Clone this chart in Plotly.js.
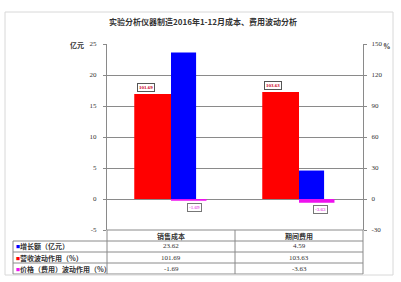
<!DOCTYPE html>
<html><head><meta charset="utf-8">
<script src="https://cdn.plot.ly/plotly-3.0.1.min.js"></script>
<style>html,body{margin:0;padding:0;background:#fff;}#chart{width:401px;height:282px;}</style>
</head><body><div id="chart"></div>
<script>
// ---- data ----
const categories = ['销售成本', '期间费用'];
const growthAmount = [23.62, 4.59];        // 增长额（亿元） - left axis
const revenueEffect = [101.69, 103.63];    // 营收波动作用（%） - right axis
const priceEffect = [-1.69, -3.63];        // 价格（费用）波动作用（%） - right axis
const seriesNames = ['增长额（亿元）', '营收波动作用（%）', '价格（费用）波动作用（%）'];
const leftTicks = [-5, 0, 5, 10, 15, 20, 25];
const rightTicks = [-30, 0, 30, 60, 90, 120, 150];
const titleText = '实验分析仪器制造2016年1-12月成本、费用波动分析';

// ---- layout geometry (pixels) ----
const W = 401, H = 282;
const L = 107, R = 363, T = 44, B = 230;
const px2x = p => (p - L) / (R - L);
const py2y = p => (B - p) / (B - T);
const colors = ['#0000ff', '#ff0000', '#ee11ee'];
const numFont = 'Liberation Serif, DejaVu Serif, serif';
const cjkFont = 'Noto Sans CJK SC, sans-serif';

const traces = [
  {type: 'bar', x: categories, y: growthAmount, yaxis: 'y', name: seriesNames[0],
   marker: {color: colors[0]}, offset: 0, width: 0.196, hoverinfo: 'none'},
  {type: 'bar', x: categories, y: revenueEffect, yaxis: 'y2', name: seriesNames[1],
   marker: {color: colors[1]}, offset: -0.287, width: 0.287, hoverinfo: 'none'},
  {type: 'bar', x: categories, y: priceEffect, yaxis: 'y2', name: seriesNames[2],
   marker: {color: colors[2]}, offset: 0, width: 0.277, hoverinfo: 'none'}
];

const annotations = [];
const shapes = [];

// data labels
const labelDx = [[-0.197, -0.203], [0.18, 0.165]];
revenueEffect.forEach((v, i) => annotations.push({
  x: i + labelDx[0][i], y: v, xref: 'x', yref: 'y2', text: '<b>' + v.toFixed(2) + '</b>', showarrow: false,
  xanchor: 'center', yanchor: 'bottom', yshift: 2, font: {family: numFont, size: 5, color: '#cc0022'},
  bgcolor: '#ffffff', bordercolor: '#555', borderwidth: 1, borderpad: 1
}));
priceEffect.forEach((v, i) => annotations.push({
  x: i + labelDx[1][i], y: v, xref: 'x', yref: 'y2', text: v.toFixed(2), showarrow: false,
  xanchor: 'center', yanchor: 'top', yshift: -2, font: {family: numFont, size: 5, color: '#dd00dd'},
  bgcolor: '#ffffff', bordercolor: '#777', borderwidth: 1, borderpad: 1
}));

// unit labels
annotations.push({xref: 'paper', yref: 'paper', x: px2x(77), y: py2y(45), xanchor: 'center', yanchor: 'middle',
  text: '<b>亿元</b>', showarrow: false, font: {family: cjkFont, size: 7, color: '#333'}});
annotations.push({xref: 'paper', yref: 'paper', x: px2x(387), y: py2y(46), xanchor: 'center', yanchor: 'middle',
  text: '<b>%</b>', showarrow: false, font: {family: numFont, size: 7.5, color: '#333'}});

// data table
const rowEdges = [230, 241, 252, 263, 274];
const colEdges = [13, 107, 235, 363];
const lineStyle = {color: '#8a8a8a', width: 1};
rowEdges.forEach((ry, k) => shapes.push({type: 'line', xref: 'paper', yref: 'paper',
  x0: px2x(k === 0 ? colEdges[1] : colEdges[0]), x1: px2x(colEdges[3]), y0: py2y(ry), y1: py2y(ry), line: lineStyle}));
colEdges.forEach((cx, k) => shapes.push({type: 'line', xref: 'paper', yref: 'paper',
  x0: px2x(cx), x1: px2x(cx), y0: py2y(k === 0 ? rowEdges[1] : rowEdges[0]), y1: py2y(rowEdges[4]), line: lineStyle}));
categories.forEach((c, i) => annotations.push({xref: 'paper', yref: 'paper',
  x: px2x((colEdges[i + 1] + colEdges[i + 2]) / 2), y: py2y((rowEdges[0] + rowEdges[1]) / 2),
  xanchor: 'center', yanchor: 'middle',
  text: '<b>' + c + '</b>', showarrow: false, font: {family: cjkFont, size: 7, color: '#333'}}));
const rowValues = [growthAmount, revenueEffect, priceEffect];
rowValues.forEach((vals, r) => {
  const cy = py2y((rowEdges[r + 1] + rowEdges[r + 2]) / 2);
  annotations.push({xref: 'paper', yref: 'paper', x: px2x(colEdges[0] + 1), xanchor: 'left', y: cy, yanchor: 'middle',
    text: '<span style="color:' + colors[r] + ';font-size:4px">■</span><b>' + seriesNames[r] + '</b>', showarrow: false,
    font: {family: cjkFont, size: 7, color: '#333'}});
  vals.forEach((v, i) => annotations.push({xref: 'paper', yref: 'paper',
    x: px2x((colEdges[i + 1] + colEdges[i + 2]) / 2), y: cy, xanchor: 'center', yanchor: 'middle',
    text: v.toFixed(2), showarrow: false, font: {family: numFont, size: 7, color: '#333'}}));
});

// outer chart border
shapes.push({type: 'rect', xref: 'paper', yref: 'paper', x0: px2x(5), x1: px2x(393), y0: py2y(275), y1: py2y(12),
  line: {color: '#d8d8d8', width: 1}, fillcolor: 'rgba(0,0,0,0)'});

const layout = {
  width: W, height: H,
  margin: {l: L, r: W - R, t: T, b: H - B, pad: 0},
  paper_bgcolor: '#ffffff', plot_bgcolor: '#ffffff',
  showlegend: false, barmode: 'overlay',
  title: {text: '<b>' + titleText + '</b>', x: 203 / W, xref: 'container', xanchor: 'center',
    y: 1 - 22 / H, yref: 'container', yanchor: 'middle', font: {family: cjkFont, size: 8, color: '#333'}},
  xaxis: {type: 'category', showticklabels: false, showgrid: false, zeroline: false,
    showline: false, ticks: '', range: [-0.5, 1.5]},
  yaxis: {range: [-5, 25], tickvals: leftTicks, ticktext: leftTicks.map(String), showgrid: true,
    gridcolor: '#8a8a8a', gridwidth: 1, zeroline: false, showline: true, linecolor: '#8a8a8a', linewidth: 1,
    ticks: 'outside', ticklen: 3, tickcolor: '#8a8a8a', ticklabelstandoff: 5,
    tickfont: {family: numFont, size: 7, color: '#333'}},
  yaxis2: {range: [-30, 150], tickvals: rightTicks, ticktext: rightTicks.map(String), overlaying: 'y', side: 'right',
    showgrid: false, zeroline: false, showline: true, linecolor: '#8a8a8a', linewidth: 1,
    ticks: 'outside', ticklen: 3, tickcolor: '#8a8a8a', ticklabelstandoff: 3,
    tickfont: {family: numFont, size: 7, color: '#333'}},
  annotations: annotations, shapes: shapes
};

Plotly.newPlot('chart', traces, layout, {staticPlot: true, displayModeBar: false});
</script>
</body></html>
